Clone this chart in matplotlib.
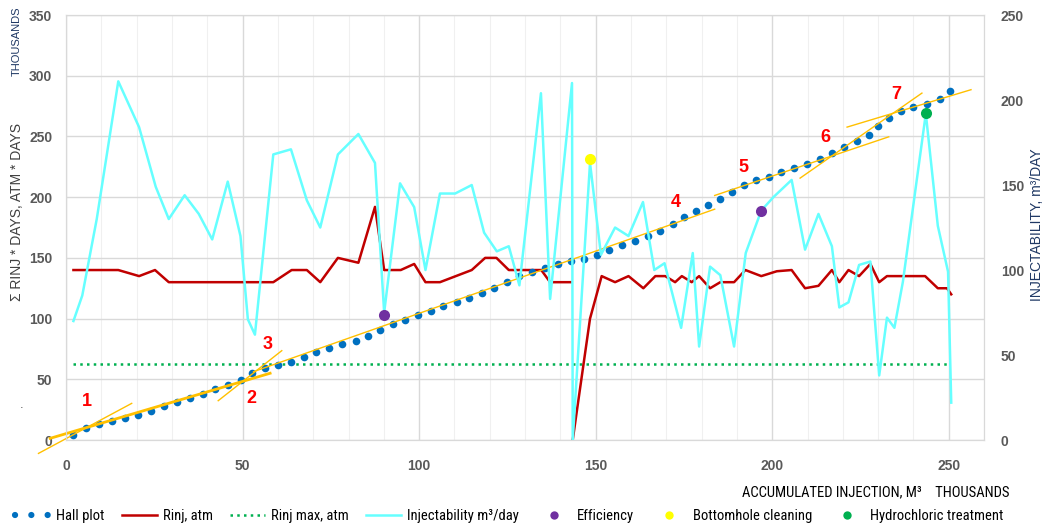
import numpy as np
import matplotlib.pyplot as plt
from matplotlib.lines import Line2D
from matplotlib.ticker import MultipleLocator

# Hall plot, thousands of m3 vs thousands of atm*days
hall_x = [2.1, 5.6, 9.3, 12.9, 16.6, 20.3, 24.0, 27.7, 31.4, 35.0, 38.7, 42.2, 45.9, 49.5, 52.8,
          56.4, 60.0, 63.7, 67.3, 70.9, 74.6, 78.3, 82.0, 85.6, 89.0, 92.5, 96.0, 99.7, 103.3, 106.9,
          110.6, 114.2, 117.8, 121.3, 124.8, 128.2, 132.0, 135.6, 139.2, 143.0, 146.7, 150.4, 153.8, 157.5, 161.1,
          164.8, 168.3, 171.8, 175.1, 178.5, 181.8, 185.2, 188.5, 191.9, 195.3, 199.1, 202.6, 206.2, 209.8, 213.4,
          217.0, 220.3, 223.9, 227.3, 229.9, 233.1, 236.5, 240.0, 243.8, 247.4, 250.4]
hall_y = [4.1, 9.6, 12.9, 15.7, 18.1, 20.9, 24.2, 27.8, 31.3, 34.4, 38.2, 42.0, 45.1, 49.2, 55.5,
          59.1, 61.8, 64.5, 68.4, 72.3, 76.1, 79.4, 81.8, 85.7, 90.7, 95.4, 98.9, 102.8, 106.6, 110.2,
          113.5, 116.8, 121.2, 125.6, 130.0, 135.4, 138.2, 141.5, 144.8, 147.3, 149.4, 152.7, 156.8, 161.0, 164.3,
          168.1, 172.5, 178.0, 183.5, 188.5, 193.4, 198.4, 204.6, 210.2, 214.0, 217.0, 220.6, 224.2, 227.7, 231.6,
          236.0, 241.2, 246.4, 251.4, 259.0, 265.6, 271.2, 274.5, 276.9, 280.8, 287.1]

# injection pressure, atm (gap where no data)
rinj_x = [2.1, 14.8, 20.7, 25.2, 29.1, 58.7, 63.9, 68.2, 72.0, 77.0, 82.8, 87.5, 90.1, 94.8, 98.6,
          101.8, 105.9, 114.9, 118.7, 121.9, 125.4, 134.6, 137.1, 143.0, np.nan, 143.5, 148.4, 151.7, 155.5, 159.3,
          163.5, 166.9, 169.7, 172.5, 174.4, 177.2, 179.3, 182.4, 185.3, 189.2, 192.4, 196.9, 201.3, 205.5, 209.3,
          213.1, 216.9, 219.0, 221.6, 224.6, 227.8, 230.3, 232.5, 243.3, 246.9, 249.5, 250.7]
rinj_y = [140, 140, 135, 140, 130, 130, 140, 140, 130, 150, 146, 192, 140, 140, 145,
          130, 130, 140, 150, 150, 140, 140, 130, 130, np.nan, 0, 100, 135, 130, 135,
          125, 135, 135, 130, 135, 130, 135, 125, 130, 130, 140, 135, 139, 140, 125,
          127, 140, 130, 140, 135, 145, 130, 135, 135, 125, 125, 120]

rinj_max_x = [2.1, 250.0]
rinj_max_y = [62.4, 62.4]

# injectability, m3/day (right axis)
inj_x = [2.1, 4.6, 8.7, 14.8, 20.7, 25.4, 29.1, 33.6, 37.6, 41.4, 45.8, 49.4, 51.5, 53.5, 58.7,
         63.7, 68.2, 72.0, 77.0, 82.8, 87.5, 90.1, 94.6, 98.6, 101.8, 105.9, 110.2, 114.9, 118.4, 122.0,
         125.4, 128.4, 134.5, 137.1, 143.3, 143.5, 148.4, 151.5, 155.5, 159.3, 163.4, 166.6, 169.5, 174.2, 177.5,
         179.3, 182.4, 185.3, 189.2, 192.5, 196.9, 200.4, 205.5, 209.3, 213.1, 216.9, 219.0, 221.6, 224.6, 227.8,
         230.3, 232.5, 234.6, 237.0, 243.5, 246.9, 249.8, 250.7]
inj_y = [70, 85, 130, 211, 184, 149, 130, 144, 133, 118, 152, 120, 71, 62, 168,
         171, 141, 125, 168, 180, 163, 75, 151, 137, 100, 145, 145, 150, 122, 111,
         114, 91, 204, 83, 210, 0, 163, 109, 125, 120, 140, 100, 104, 66, 110,
         55, 102, 97, 55, 110, 135, 143, 153, 112, 133, 114, 78, 81, 103, 105,
         38, 72, 66, 93, 192, 126, 99, 22]

eff_x, eff_y = [90.1, 196.9], [73.5, 134.8]
clean_x, clean_y = [148.4], [165.4]
hcl_x, hcl_y = [243.5], [192.3]

# straight-line sections of the Hall plot: (x0, x1), (y0, y1)
trend_x = [(-4.5, 57.8), (-7.8, 18.6), (43.1, 61.1), (53.1, 183.7), (183.7, 233.0), (207.9, 242.4), (221.2, 256.3)]
trend_y = [(1.4, 55.0), (-11.0, 30.2), (32.4, 73.6), (56.3, 190.1), (201.4, 249.7), (215.7, 285.7), (257.7, 288.5)]

sect_labels = ['1', '2', '3', '4', '5', '6', '7']
sect_x = [6.0, 52.6, 57.0, 172.8, 191.9, 215.0, 235.1]
sect_y = [32.0, 34.3, 78.9, 195.6, 224.7, 249.5, 284.9]

narrow = ['Liberation Sans Narrow', 'Roboto Condensed', 'Liberation Sans', 'DejaVu Sans']
tickfont = ['Liberation Sans', 'DejaVu Sans']

fig = plt.figure(figsize=(10.48, 5.27), dpi=100)
ax = fig.add_axes([0.063, 0.165, 0.876, 0.8065])
ax2 = ax.twinx()

grid_c = '#D9D9D9'
ax.set_xlim(0, 260)
ax.set_ylim(0, 350)
ax2.set_ylim(0, 250)
ax.xaxis.set_major_locator(MultipleLocator(50))
ax.xaxis.set_minor_locator(MultipleLocator(10))
ax.yaxis.set_major_locator(MultipleLocator(50))
ax2.yaxis.set_major_locator(MultipleLocator(50))
ax.grid(which='major', color=grid_c, lw=1.0)
ax.grid(which='minor', axis='x', color='#F0F0F0', lw=0.8)
ax.set_axisbelow(True)
for a in (ax, ax2):
    for s in a.spines.values():
        s.set_color(grid_c)
ax.tick_params(which='both', length=0)
ax2.tick_params(which='both', length=0)
ax.tick_params(axis='x', pad=14)
ax.tick_params(axis='y', pad=10)
ax2.tick_params(axis='y', pad=12)
for lab in ax.get_xticklabels() + ax.get_yticklabels() + ax2.get_yticklabels():
    lab.set_fontfamily(tickfont)
    lab.set_fontweight('bold')
    lab.set_fontsize(10)
    lab.set_color('#595959')

# series
ax.plot(rinj_max_x, rinj_max_y, color='#00B050', lw=1.8, linestyle=(0, (1, 1.7)), zorder=2)
ax.plot(rinj_x, rinj_y, color='#C00000', lw=1.8, zorder=3)
for tx, ty in zip(trend_x, trend_y):
    w = 2.0 if tx[0] == -4.5 else 1.0
    ax.plot(tx, ty, color='#FFC000', lw=w, zorder=5, clip_on=False)
ax.plot(hall_x, hall_y, 'o', color='#0070C0', ms=5.5, mec='none', zorder=4)
for t, x, y in zip(sect_labels, sect_x, sect_y):
    ax.text(x, y, t, color='#FF0000', fontsize=13, fontweight='bold', ha='center', va='center',
            family=tickfont, zorder=6)

ax2.plot(inj_x, inj_y, color='#66FFFF', lw=1.8, zorder=3)
ax2.plot(eff_x, eff_y, 'o', color='#7030A0', ms=8, mec='none', zorder=6)
ax2.plot(clean_x, clean_y, 'o', color='#FFFF00', ms=8, mec='none', zorder=6)
ax2.plot(hcl_x, hcl_y, 'o', color='#00B050', ms=8, mec='none', zorder=6)

# axis titles
fig.text(17 / 1048, 1 - 212 / 527, 'Σ RINJ * DAYS, ATM * DAYS', rotation=90, ha='center', va='center',
         fontsize=10, color='#404040', family=tickfont)
fig.text(17 / 1048, 1 - 41 / 527, 'THOUSANDS', rotation=90, ha='center', va='center',
         fontsize=8, color='#1F3864', family=tickfont)
fig.text(22 / 1048, 1 - 405 / 527, '.', ha='center', va='center', fontsize=8, color='#404040')
fig.text(1037 / 1048, 1 - 225 / 527, 'INJECTABILITY, m³/DAY', rotation=90, ha='center', va='center',
         fontsize=10, color='#1F3864', family=tickfont)
fig.text(1010 / 1048, 1 - 492 / 527, 'ACCUMULATED INJECTION, M³    THOUSANDS', ha='right', va='center',
         fontsize=10.5, color='#000000', family=narrow)

handles = [
    Line2D([], [], color='#0070C0', lw=4.5, linestyle=(0, (0.01, 2.6)), dash_capstyle='round'),
    Line2D([], [], color='#C00000', lw=1.8),
    Line2D([], [], color='#00B050', lw=1.8, linestyle=(0, (1, 1.7))),
    Line2D([], [], color='#66FFFF', lw=1.8),
    Line2D([], [], marker='o', color='#7030A0', ls='none', ms=6, mec='none'),
    Line2D([], [], marker='o', color='#FFFF00', ls='none', ms=6, mec='none'),
    Line2D([], [], marker='o', color='#00B050', ls='none', ms=6, mec='none'),
]
labels = ['Hall plot', 'Rinj, atm', 'Rinj max, atm', 'Injectability m³/day', 'Efficiency',
          'Bottomhole cleaning', 'Hydrochloric treatment']
fig.legend(handles, labels, loc='center', bbox_to_anchor=(0.486, 0.021), ncol=7, frameon=False,
           prop={'family': narrow, 'size': 10.5}, handlelength=2.4, handletextpad=0.4,
           columnspacing=1.2, numpoints=1)

fig.savefig('out.png', dpi=100)
